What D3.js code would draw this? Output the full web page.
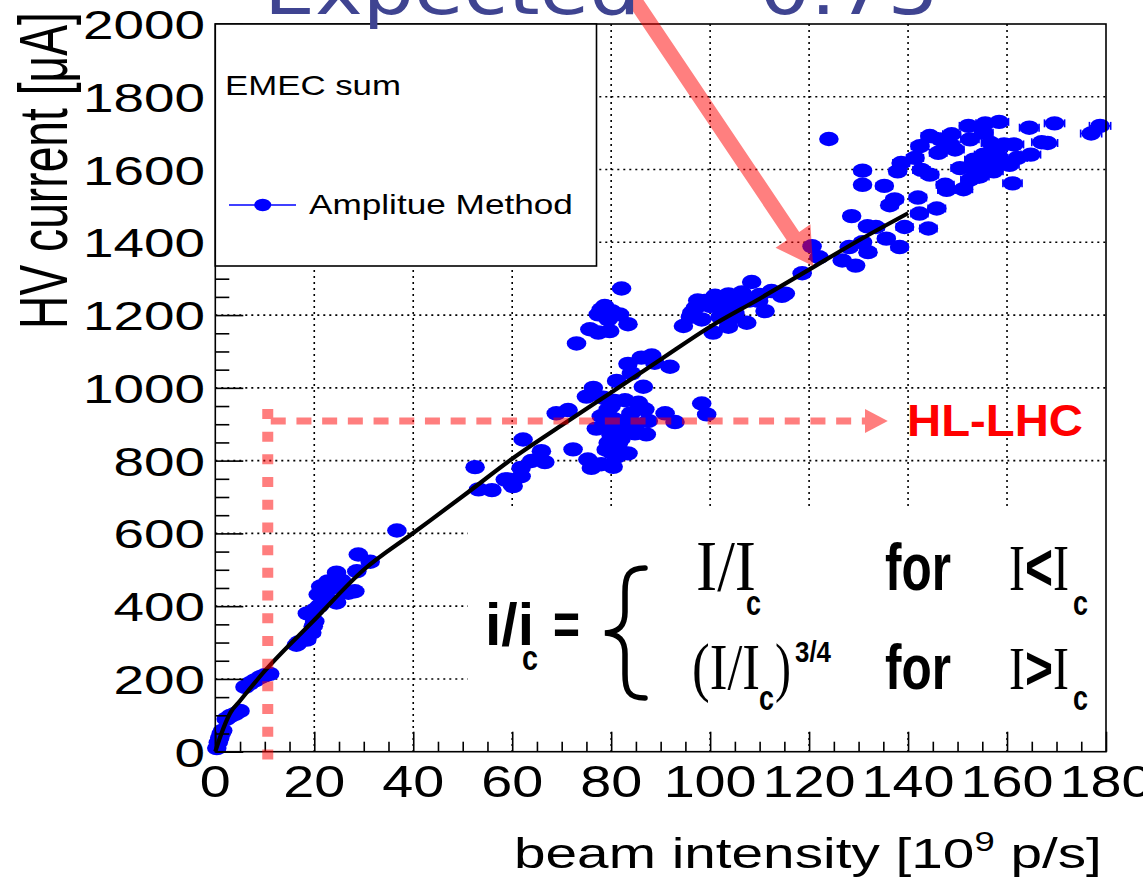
<!DOCTYPE html>
<html><head><meta charset="utf-8">
<script src="https://cdn.jsdelivr.net/npm/d3@7"></script>
<style>body{margin:0;background:#fff}svg{display:block}</style>
</head><body>
<svg id="c" width="1143" height="883"></svg>
<script>
// ---------------- data ----------------
const xTicks = [0,20,40,60,80,100,120,140,160,180];
const yTicks = [0,200,400,600,800,1000,1200,1400,1600,1800,2000];
const xMinorStep = 5, yMinorStep = 50;

// [beam intensity (1e9 p/s), HV current (uA)]
const lowPoints = [
 [0.3,10],[0.6,25],[0.9,38],[1.2,50],[1.5,58],[2.2,90],[3,98],[4,104],[5,112],
 [6,178],[7,188],[8,196],[9,204],[10,210],[11,214],
 [16.4,294],[16.8,300],[18.5,308],[19.5,327],[19.8,345],[18.6,380],[20.1,358],[20.1,390],[21,400],
 [20.8,432],[21.3,454],[22.8,468],[23.5,450],[24.5,492],[22.8,418],[24.5,410],[25.5,470],
 [26.9,437],[28.2,441],[28.6,496],[28.9,542],[31.3,522],[36.7,608]
];
const midPoints = [
 [52.5,782],[53.2,721],[55.9,719],[58.6,748],[60,734],
 [62.2,858],[65.9,826],[66.6,796],[63.9,799],[61.8,780],[61.8,757],[59.1,748],[60.2,730],
 [73,1122],[75.7,1161],[77.4,1152],[79.7,1156],[83.4,1175],[77.4,1202],[78.7,1225],[80.1,1211],
 [81.7,1202],[79.4,1188],[82.1,1273],[78,1216],
 [83.4,1066],[86.1,1083],[88.2,1089],[88.8,1069],[91.9,1058],[84.1,1040],[81.1,1019],[86.5,1003],
 [76.4,1000],[75,976],
 [71.3,939],[68.9,930],[78.4,973],[80.7,964],[82.8,966],[85.5,959],[86.8,941],[79.4,941],[78,922],
 [80.7,913],[83.4,913],[87.5,909],[90.9,930],[92.9,906],[98.3,957],[99.3,927],[77,888],[79.4,886],
 [82.1,886],[84.8,875],[87.1,872],[79.4,849],[81.4,845],[80.1,822],[83.4,820],[72.3,831],[75.3,803],
 [76,780],[78,790],[80.4,783],[79,900],[81,900],[83,895],[80,870],[82,860],[79,830],[81,810],
 [84,930],[85,900],[80,950]
];
const highPoints = [
 [96.3,1207],[98.9,1239],[101,1253],[103.7,1257],[106.4,1262],[108.4,1291],[109.8,1239],[111.1,1211],
 [114.5,1253],[94.6,1170],[100.6,1152],[103.7,1168],[107.4,1179],[98.3,1188],[102.3,1216],[105,1225],
 [99.6,1234],[112.4,1266],[97,1220],[100,1225],[101.5,1235],[103,1230],[104,1240],[106,1235],
 [107,1250],[108,1240],[105,1205],[102,1195],[96,1195],[97.5,1240],[110,1255],[104,1190],
 [115.2,1259],[118.6,1315],[120.6,1389],[122,1359],[126.7,1350],[129.4,1336],[124,1684],[128.6,1472],
 [130.8,1597],[130.8,1558],[135.2,1555],[137.3,1518],[136.3,1502],[142,1523],[142.3,1479],[145.8,1493],
 [131.8,1444],[133.5,1442],[139.3,1442],[144.1,1438],[131.9,1373],[135.6,1410],[138.3,1387],
 [128.1,1387],[130.8,1400],
 [138.6,1618],[137.9,1595],[141.4,1632],[142.4,1664],[144.4,1692],[146.5,1683],[148.8,1697],
 [146.1,1646],[149.5,1655],[150.5,1604],[142.7,1599],[144.4,1586],[147.5,1558],[147.8,1544],
 [151.2,1546],[152.2,1720],[155.6,1727],[158.4,1731],[164.5,1715],[169.6,1727],[178.8,1720],
 [177,1699],[167,1675],[168.2,1673],[164.8,1641],[161.1,1562],[152.5,1683],[155.3,1701],
 [156.7,1673],[159.4,1669],[161.4,1669],[158,1641],[155.3,1641],[153.3,1627],[156.7,1613],
 [159.4,1618],[162.1,1632],[153.9,1599],[157.3,1595],[152.5,1572],[154.5,1581],[160.5,1613],
 [148.5,1669]
];
const xErrFraction = 0.012;
// fit curve
const fitCurve = [
 [0,0],[1,41],[3,106],[5,140],[10,222],[20,362],[30,500],[40,601],[50,702],[60,805],
 [70,897],[80,987],[90,1078],[100,1168],[110,1245],[120,1325],[130,1405],[140,1480]
];
// annotations (data coordinates)
const hlLhc = {intensity: 10.6, current: 909, lineEnd: 131.3, arrowTip: 135.9};
const expectedArrow = {from: [84.5, 2070], to: [120.8, 1335]};

// ---------------- drawing ----------------
const SANS = "'Liberation Sans', Arial, Helvetica, sans-serif";
const SERIF = "'Liberation Serif', 'Times New Roman', serif";
const svg = d3.select('#c');
svg.append('rect').attr('width',1143).attr('height',883).attr('fill','#fff');

const x = d3.scaleLinear().domain([0,180]).range([215.3,1106]);
const y = d3.scaleLinear().domain([0,2000]).range([751.7,24]);
const [X0,X1] = x.range(), [Y0,Y1] = y.range();
const MRX = 9.8, MRY = 7.2;

function label(parent, content, o) {
  const g = parent.append('g');
  const t = g.append('text').attr('font-family', o.family || SANS)
    .attr('font-size', o.size).attr('font-weight', o.weight || 'normal')
    .attr('fill', o.fill || '#000');
  if (typeof content === 'function') content(t); else t.text(content);
  const bb = t.node().getBBox();
  const s = o.width ? o.width / bb.width : 1;
  const a = o.anchor || 'start';
  const tx = a === 'start' ? -bb.x*s : a === 'end' ? -(bb.x+bb.width)*s : -(bb.x+bb.width/2)*s;
  t.attr('transform', `translate(${tx},0) scale(${s},1)`);
  g.attr('transform', `translate(${o.x},${o.y})` + (o.rotate ? ` rotate(${o.rotate})` : ''));
  return t;
}

// grid
const grid = svg.append('g').attr('stroke','#000').attr('stroke-width',1.6).attr('stroke-dasharray','2,4');
grid.selectAll('.gx').data(xTicks.filter(v => v>0 && v<180)).join('line')
  .attr('x1', d=>x(d)).attr('x2', d=>x(d)).attr('y1', Y1).attr('y2', Y0);
grid.selectAll('.gy').data(yTicks.filter(v => v>0 && v<2000)).join('line')
  .attr('y1', d=>y(d)).attr('y2', d=>y(d)).attr('x1', X0).attr('x2', X1);

// formula box (white, covers grid)
const fbox = {x0: 51, x1: 180, y0: 665, y1: 62};
svg.append('rect').attr('x', x(fbox.x0)).attr('y', y(fbox.y0))
  .attr('width', x(fbox.x1)-x(fbox.x0)).attr('height', y(fbox.y1)-y(fbox.y0)).attr('fill','#fff');

// data points with x error bars
const allPoints = lowPoints.concat(midPoints, highPoints);
const pts = svg.append('g');
const eb = pts.append('g').attr('stroke','#0000ff').attr('stroke-width',1.6);
allPoints.forEach(([a,b]) => {
  const e = a * xErrFraction;
  eb.append('line').attr('x1', x(a-e)).attr('x2', x(a+e)).attr('y1', y(b)).attr('y2', y(b));
  eb.append('line').attr('x1', x(a-e)).attr('x2', x(a-e)).attr('y1', y(b)-4).attr('y2', y(b)+4);
  eb.append('line').attr('x1', x(a+e)).attr('x2', x(a+e)).attr('y1', y(b)-4).attr('y2', y(b)+4);
});
pts.selectAll('ellipse').data(allPoints).join('ellipse')
  .attr('cx', d=>x(d[0])).attr('cy', d=>y(d[1])).attr('rx', MRX).attr('ry', MRY).attr('fill','#0000ff');

// fit curve
svg.append('path').datum(fitCurve)
  .attr('d', d3.line().x(d=>x(d[0])).y(d=>y(d[1])).curve(d3.curveMonotoneX))
  .attr('fill','none').attr('stroke','#000').attr('stroke-width',4.2);

// axes ticks (inward)
const xMinor = d3.range(0, 180.01, xMinorStep).filter(v => v % 20 !== 0);
const yMinor = d3.range(0, 2000.01, yMinorStep).filter(v => v % 200 !== 0);
function styleAxis(g){ g.select('.domain').remove(); g.selectAll('line').attr('stroke','#000').attr('stroke-width',1.6); }
svg.append('g').attr('transform',`translate(0,${Y0})`)
  .call(d3.axisBottom(x).tickValues(xTicks).tickSizeInner(-20).tickSizeOuter(0).tickFormat('')).call(styleAxis);
svg.append('g').attr('transform',`translate(0,${Y0})`)
  .call(d3.axisBottom(x).tickValues(xMinor).tickSizeInner(-10).tickSizeOuter(0).tickFormat('')).call(styleAxis);
svg.append('g').attr('transform',`translate(${X0},0)`)
  .call(d3.axisLeft(y).tickValues(yTicks).tickSizeInner(-28).tickSizeOuter(0).tickFormat('')).call(styleAxis);
svg.append('g').attr('transform',`translate(${X0},0)`)
  .call(d3.axisLeft(y).tickValues(yMinor).tickSizeInner(-14).tickSizeOuter(0).tickFormat('')).call(styleAxis);

// frame
svg.append('rect').attr('x',X0).attr('y',Y1).attr('width',X1-X0).attr('height',Y0-Y1)
  .attr('fill','none').attr('stroke','#000').attr('stroke-width',1.6);

// legend box
const lg = svg.append('g');
lg.append('rect').attr('x', X0).attr('y', Y1).attr('width', 596.5-X0).attr('height', 266-Y1)
  .attr('fill','#fff').attr('stroke','#000').attr('stroke-width',1.6);
label(lg, 'EMEC sum', {x: 225, y: 95, size: 28, width: 176});
lg.append('line').attr('x1',229).attr('x2',296).attr('y1',205).attr('y2',205).attr('stroke','#0000ff').attr('stroke-width',1.6);
lg.append('ellipse').attr('cx',262.7).attr('cy',205).attr('rx',8.5).attr('ry',6.2).attr('fill','#0000ff');
label(lg, 'Amplitue Method', {x: 309, y: 214, size: 28, width: 264});

// tick labels
xTicks.forEach(v => label(svg, String(v), {x: x(v), y: 797, size: 44, anchor: 'middle', width: 31*String(v).length}));
yTicks.forEach(v => label(svg, String(v), {x: 205, y: y(v)+15, size: 41, anchor: 'end', width: 30.5*String(v).length}));

// axis titles
label(svg, t => {
  t.append('tspan').text('beam intensity [10');
  t.append('tspan').attr('font-size', 27).attr('dy', -17).text('9');
  t.append('tspan').attr('dy', 17).text(' p/s]');
}, {x: 514, y: 868, size: 42, width: 588});
label(svg, 'HV current [\u03bcA]', {x: 67, y: 329, size: 68, rotate: -90, width: 317});

// formula
const fm = svg.append('g');
label(fm, 'i/i', {x: 485, y: 645, size: 59, weight: 'bold', width: 49});
label(fm, 'c', {x: 522, y: 670, size: 35, weight: 'bold', width: 16});
label(fm, '=', {x: 553, y: 644, size: 59, weight: 'bold', width: 27});
fm.append('path')
  .attr('d', 'M645,568 C628,568 625,576 625,592 L625,612 C625,626 619,632 605,633 C619,634 625,640 625,654 L625,674 C625,690 628,698 645,698')
  .attr('fill','none').attr('stroke','#000').attr('stroke-width',5.5).attr('stroke-linecap','round');
label(fm, 'I/I', {x: 696, y: 590, size: 72, family: SERIF, width: 60});
label(fm, 'c', {x: 746, y: 615, size: 35, weight: 'bold', width: 15});
label(fm, 'for', {x: 885, y: 590, size: 66, weight: 'bold', width: 66});
label(fm, t => {
  t.append('tspan').attr('font-family', SERIF).attr('font-weight','normal').text('I');
  t.append('tspan').text('<');
  t.append('tspan').attr('font-family', SERIF).attr('font-weight','normal').text('I');
}, {x: 1009, y: 590, size: 66, weight: 'bold', width: 60});
label(fm, 'c', {x: 1073, y: 615, size: 35, weight: 'bold', width: 15});
label(fm, '(I/I', {x: 692, y: 689, size: 66, family: SERIF, width: 68});
label(fm, 'c', {x: 759, y: 710, size: 35, weight: 'bold', width: 15});
label(fm, ')', {x: 775, y: 689, size: 66, family: SERIF, width: 16});
label(fm, '3/4', {x: 795, y: 662, size: 29, weight: 'bold', width: 36});
label(fm, 'for', {x: 885, y: 689, size: 62, weight: 'bold', width: 66});
label(fm, t => {
  t.append('tspan').attr('font-family', SERIF).attr('font-weight','normal').text('I');
  t.append('tspan').text('>');
  t.append('tspan').attr('font-family', SERIF).attr('font-weight','normal').text('I');
}, {x: 1009, y: 689, size: 62, weight: 'bold', width: 60});
label(fm, 'c', {x: 1073, y: 710, size: 35, weight: 'bold', width: 15});

// HL-LHC dashed lines (semi-transparent red)
const hl = svg.append('g').attr('opacity', 0.5);
hl.append('line').attr('x1', x(hlLhc.intensity)).attr('x2', x(hlLhc.intensity))
  .attr('y1', y(hlLhc.current)-12).attr('y2', 762)
  .attr('stroke','#ff0000').attr('stroke-width',11).attr('stroke-dasharray','10,12.7');
hl.append('line').attr('x1', x(hlLhc.intensity)+3).attr('x2', x(hlLhc.lineEnd))
  .attr('y1', y(hlLhc.current)).attr('y2', y(hlLhc.current))
  .attr('stroke','#ff0000').attr('stroke-width',7).attr('stroke-dasharray','15,10.7');
hl.append('path').attr('fill','#ff0000')
  .attr('d', `M${x(hlLhc.lineEnd)},${y(hlLhc.current)-12}L${x(hlLhc.arrowTip)},${y(hlLhc.current)}L${x(hlLhc.lineEnd)},${y(hlLhc.current)+12}Z`);
label(svg, 'HL-LHC', {x: 907, y: 436, size: 44, weight: 'bold', fill: '#ff0000', width: 176});

// Expected arrow
(function(){
  const p0 = [x(expectedArrow.from[0]), y(expectedArrow.from[1])];
  const p1 = [x(expectedArrow.to[0]), y(expectedArrow.to[1])];
  const dx = p1[0]-p0[0], dy = p1[1]-p0[1], L = Math.hypot(dx,dy);
  const ux = dx/L, uy = dy/L, px = -uy, py = ux;
  const hLen = 36, hW = 21, sW = 7.5;
  const b = [p1[0]-ux*hLen, p1[1]-uy*hLen];
  const pts = [
    [p0[0]+px*sW, p0[1]+py*sW], [b[0]+px*sW, b[1]+py*sW], [b[0]+px*hW, b[1]+py*hW],
    p1, [b[0]-px*hW, b[1]-py*hW], [b[0]-px*sW, b[1]-py*sW], [p0[0]-px*sW, p0[1]-py*sW]
  ];
  svg.append('path').attr('d', 'M' + pts.map(p=>p.join(',')).join('L') + 'Z')
    .attr('fill','#ff0000').attr('opacity',0.5);
})();

label(svg, 'Expected ~ 0.75', {x: 264, y: 14, size: 72, family: "'DejaVu Sans', sans-serif", fill: '#3f4491', width: 675});
</script>
</body></html>
